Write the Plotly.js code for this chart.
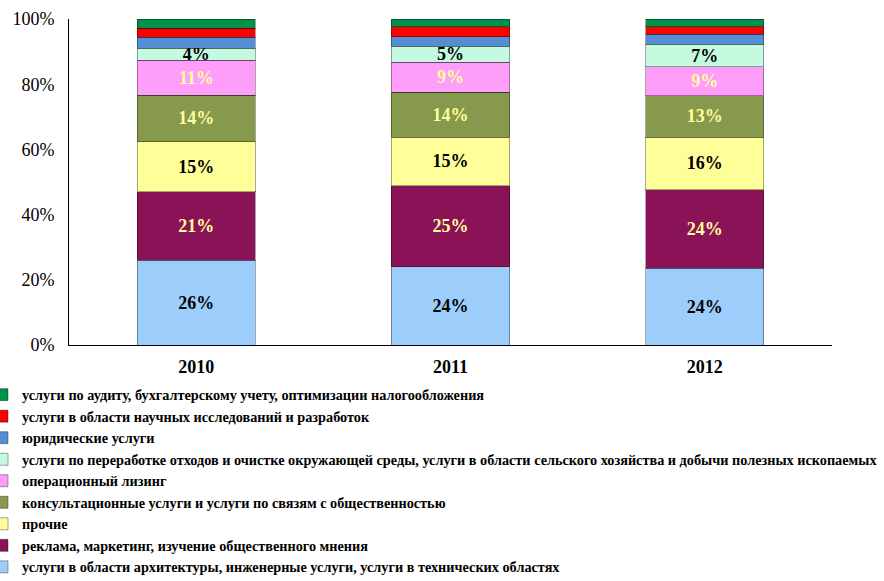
<!DOCTYPE html>
<html>
<head>
<meta charset="utf-8">
<script src="https://cdn.plot.ly/plotly-3.0.1.min.js"></script>
<style>html,body{margin:0;padding:0;background:#fff;}#chart{width:884px;height:581px;}</style>
</head>
<body>
<div id="chart"></div>
<script>
const years = ['2010', '2011', '2012'];

const seriesNames = [
  'услуги в области архитектуры, инженерные услуги, услуги в технических областях',
  'реклама, маркетинг, изучение общественного мнения',
  'прочие',
  'консультационные услуги и услуги по связям с общественностью',
  'операционный лизинг',
  'услуги по переработке отходов и очистке окружающей среды, услуги в области сельского хозяйства и добычи полезных ископаемых',
  'юридические услуги',
  'услуги в области научных исследований и разработок',
  'услуги по аудиту, бухгалтерскому учету, оптимизации налогообложения'
];

const architecture = [26, 24, 23.6];
const advertising = [21, 24.8, 24.0];
const other = [15.4, 15, 16.2];
const consulting = [14.2, 13.8, 12.6];
const leasing = [10.8, 9.2, 8.9];
const wasteAgriMining = [3.6, 4.8, 6.9];
const legal = [3.4, 2.9, 3.1];
const research = [2.8, 3.1, 2.3];
const audit = [2.8, 2.4, 2.4];

const seriesValues = [architecture, advertising, other, consulting, leasing, wasteAgriMining, legal, research, audit];
const seriesColors = ['#9dcdfb', '#8a1357', '#ffff99', '#86994c', '#ff9dfb', '#c4fadf', '#558ed5', '#ff0000', '#00914a'];
const labelColors = ['#000000', '#ffff99', '#000000', '#ffff99', '#ffff99', '#000000', null, null, null];

const serif = '"Liberation Serif", serif';

const traces = seriesNames.map((name, i) => {
  const t = {
    type: 'bar',
    name: name,
    x: years,
    y: seriesValues[i],
    marker: {color: seriesColors[i], line: {color: 'rgba(0,0,0,0.35)', width: 1}},
    hoverinfo: 'skip'
  };
  if (labelColors[i]) {
    t.texttemplate = '%{y:.0f}%';
    t.textposition = 'inside';
    t.insidetextanchor = 'middle';
    t.constraintext = 'none';
    t.textangle = 0;
    t.insidetextfont = {family: serif, size: 18, weight: 'bold', color: labelColors[i]};
  } else {
    t.textposition = 'none';
  }
  return t;
});

const layout = {
  width: 884,
  height: 581,
  barmode: 'stack',
  bargap: 0.536,
  paper_bgcolor: '#ffffff',
  plot_bgcolor: '#ffffff',
  margin: {l: 69, r: 52, t: 19, b: 236, autoexpand: false},
  showlegend: true,
  legend: {
    orientation: 'v',
    traceorder: 'reversed',
    x: -0.114,
    xanchor: 'left',
    y: -0.104,
    yanchor: 'top',
    itemwidth: 30,
    font: {family: serif, size: 14.25, weight: 'bold', color: '#000'},
    bgcolor: 'rgba(0,0,0,0)'
  },
  xaxis: {
    type: 'category',
    showline: true,
    linecolor: '#000',
    linewidth: 1,
    ticks: '',
    showgrid: false,
    zeroline: false,
    ticklabelstandoff: 5,
    tickfont: {family: serif, size: 18, weight: 'bold', color: '#000'}
  },
  yaxis: {
    range: [0, 100],
    tickvals: [0, 20, 40, 60, 80, 100],
    ticktext: ['0%', '20%', '40%', '60%', '80%', '100%'],
    showline: true,
    linecolor: '#000',
    linewidth: 1,
    ticks: '',
    showgrid: false,
    zeroline: false,
    ticklabelstandoff: 10,
    tickfont: {family: serif, size: 18, color: '#000'}
  }
};

Plotly.newPlot('chart', traces, layout, {displayModeBar: false, staticPlot: true});
</script>
</body>
</html>
